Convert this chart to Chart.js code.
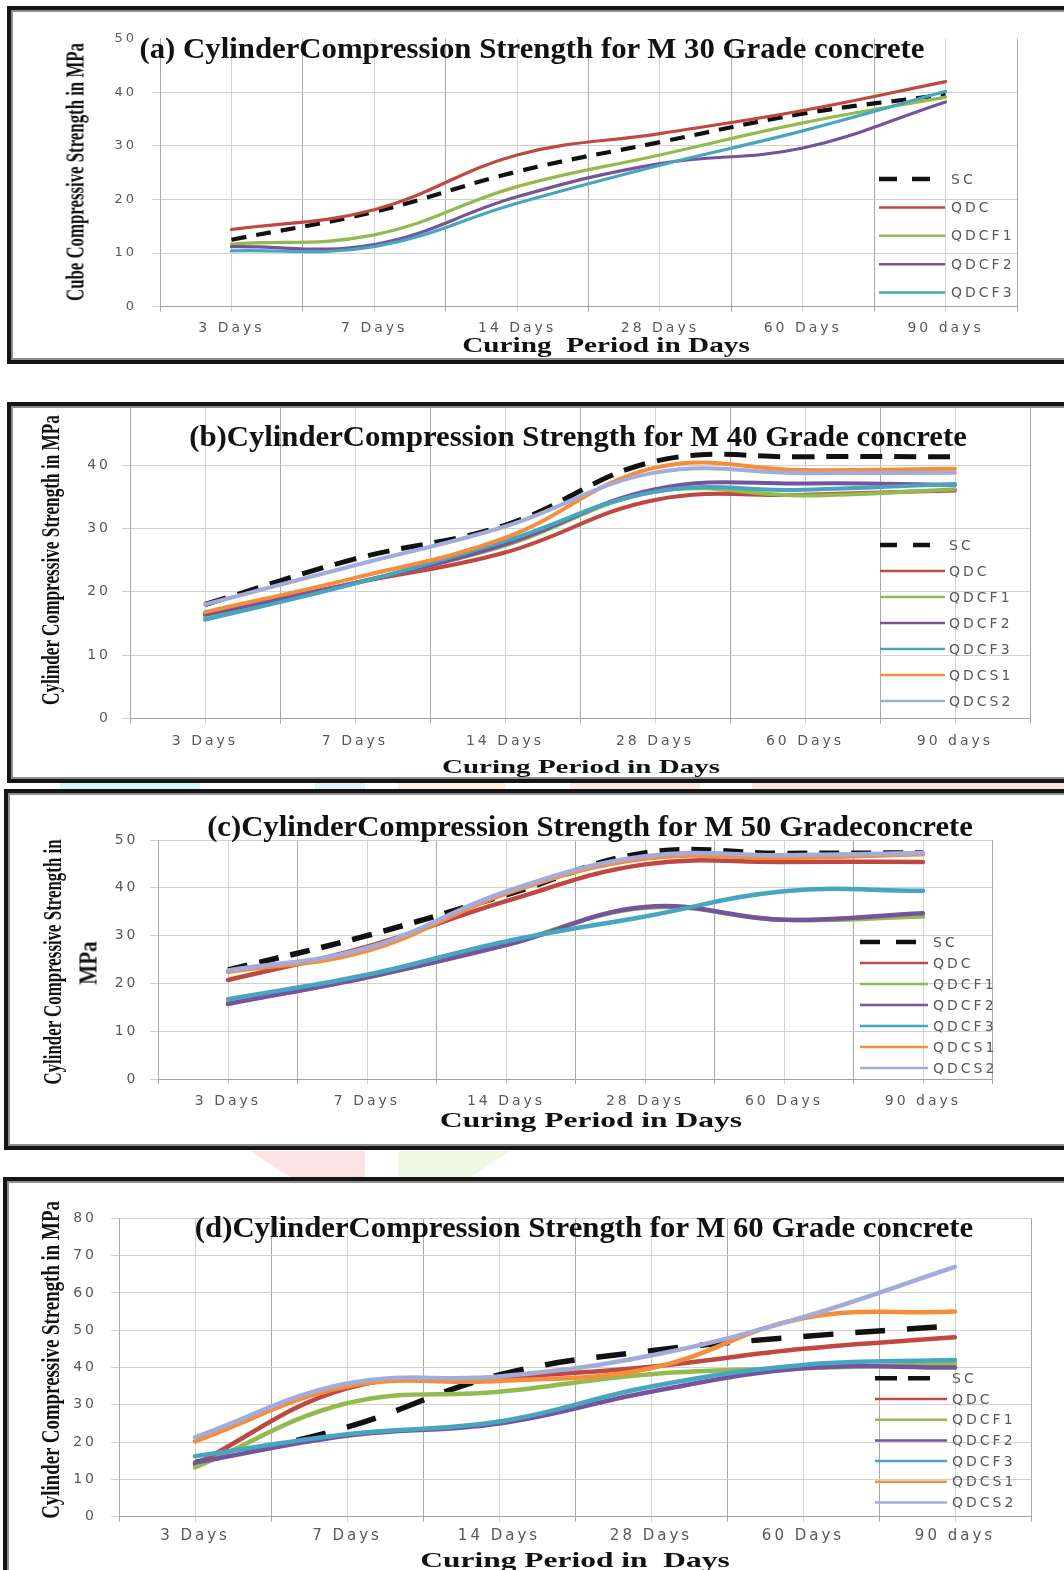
<!DOCTYPE html>
<html>
<head>
<meta charset="utf-8">
<script src="https://cdn.jsdelivr.net/npm/chart.js@4.4.0/dist/chart.umd.min.js"></script>
<style>
  html, body { margin: 0; padding: 0; background: #fff; }
  body { position: relative; width: 1064px; height: 1570px; overflow: hidden; }
  .frame { position: absolute; border: 4px solid #151515; box-shadow: inset 0 0 0 2px #8e8e8e; background: #fff; box-sizing: border-box; }
  .mark { position: absolute; }
  canvas { position: absolute; left: 0; }
  .lbl { position: absolute; white-space: pre; font-family: "Liberation Serif", "Times New Roman", serif; font-weight: bold; color: #111; line-height: 1; }
</style>
</head>
<body>
<script>
// curing ages and mix names
const DAYS = ['3 Days', '7 Days', '14 Days', '28 Days', '60 Days', '90 days'];
const SERIES = ['SC', 'QDC', 'QDCF1', 'QDCF2', 'QDCF3', 'QDCS1', 'QDCS2'];
const COLORS = ['#111111', '#BF4842', '#93BA4E', '#76549C', '#47A5C0', '#F48E3C', '#A3ACD9'];

// M30 (MPa)
const M30_SC    = [12.5, 17.7, 25.2, 30.7, 36.0, 39.6];
const M30_QDC   = [14.4, 18.1, 28.3, 32.3, 36.6, 42.0];
const M30_QDCF1 = [11.7, 13.4, 22.4, 28.3, 34.3, 39.1];
const M30_QDCF2 = [11.2, 11.6, 20.5, 26.7, 29.6, 38.2];
const M30_QDCF3 = [10.4, 11.2, 19.3, 26.4, 32.8, 40.2];

// M40
const M40_SC    = [18.0, 25.2, 30.5, 40.6, 41.3, 41.3];
const M40_QDC   = [16.5, 21.4, 26.2, 34.5, 35.3, 36.0];
const M40_QDCF1 = [15.9, 21.4, 27.3, 35.8, 35.2, 36.2];
const M40_QDCF2 = [16.4, 21.4, 27.5, 36.2, 37.1, 36.9];
const M40_QDCF3 = [15.6, 21.3, 28.0, 35.8, 36.1, 37.0];
const M40_QDCS1 = [16.8, 22.2, 28.5, 39.6, 39.2, 39.4];
const M40_QDCS2 = [18.0, 24.2, 30.3, 38.8, 38.7, 38.8];

// M50
const M50_SC    = [22.8, 30.0, 38.5, 47.3, 47.2, 47.3];
const M50_QDC   = [20.7, 27.7, 37.2, 44.9, 45.4, 45.4];
const M50_QDCF1 = [15.9, 21.2, 28.2, 35.8, 33.3, 34.0];
const M50_QDCF2 = [15.7, 21.3, 28.0, 36.0, 33.3, 34.7];
const M50_QDCF3 = [16.7, 21.8, 28.8, 34.0, 39.3, 39.4];
const M50_QDCS1 = [22.4, 26.8, 38.8, 46.1, 46.3, 47.0];
const M50_QDCS2 = [22.7, 27.4, 39.2, 46.6, 46.8, 47.3];

// M60
const M60_SC    = [14.5, 24.0, 38.0, 44.5, 48.3, 51.2];
const M60_QDC   = [14.0, 34.4, 37.2, 40.2, 45.0, 48.1];
const M60_QDCF1 = [13.2, 30.4, 33.5, 38.2, 39.8, 41.0];
const M60_QDCF2 = [14.5, 21.7, 25.0, 33.5, 39.8, 40.0];
const M60_QDCF3 = [16.2, 22.1, 25.5, 34.9, 40.7, 42.0];
const M60_QDCS1 = [20.2, 34.9, 36.4, 39.8, 53.2, 55.0];
const M60_QDCS2 = [21.3, 35.7, 37.6, 43.2, 53.5, 67.0];

// wide spacing for the gothic-looking tick/legend text
const spacing = {
  id: 'spacing',
  beforeDraw(chart, args, o) { chart.ctx.letterSpacing = (o.px || 0) + 'px'; },
  afterDraw(chart) { chart.ctx.letterSpacing = '0px'; }
};

// legend sits inside the plot, lower right; the dashed key is two dashes long
const key = {
  id: 'key',
  afterDatasetsDraw(chart, args, o) {
    const ctx = chart.ctx;
    ctx.save();
    ctx.font = o.size + 'px "DejaVu Sans"';
    ctx.fillStyle = '#595959';
    ctx.textBaseline = 'middle';
    chart.data.datasets.forEach((ds, i) => {
      const y = o.y + i * o.gap;
      const len = i ? o.len : o.dash[0] * 2 + o.dash[1];
      ctx.strokeStyle = ds.borderColor;
      ctx.lineWidth = i ? o.lw : o.lw + 2;
      ctx.setLineDash(i ? [] : o.dash);
      ctx.beginPath();
      ctx.moveTo(o.x, y);
      ctx.lineTo(o.x + len, y);
      ctx.stroke();
      ctx.fillText(ds.label, o.x + o.len + o.tx, y + 1);
    });
    ctx.restore();
  }
};

function build(id, top, height, groups, g) {
  const cv = document.createElement('canvas');
  cv.id = id;
  cv.width = 1064;
  cv.height = height;
  cv.style.top = top + 'px';
  document.body.appendChild(cv);

  const datasets = groups.map((vals, i) => ({
    label: SERIES[i],
    data: vals.map((v, k) => ({ x: k, y: v })),
    borderColor: COLORS[i],
    borderWidth: i ? g.lw : g.lw + 1,
    borderDash: i ? [] : g.dash,
    borderCapStyle: i ? 'round' : 'butt',
    tension: 0.4,
    pointRadius: 0,
    fill: false,
    order: -i
  }));

  return new Chart(cv, {
    type: 'line',
    data: { datasets },
    options: {
      responsive: false,
      animation: false,
      events: [],
      layout: { padding: g.pad },
      plugins: {
        legend: { display: false },
        tooltip: { enabled: false },
        spacing: { px: 3 },
        key: g.key
      },
      scales: {
        x: {
          type: 'linear', min: -0.5, max: 5.5,
          afterFit: (s) => { s.height = 30; s.paddingLeft = 0; s.paddingRight = 0; },
          ticks: {
            stepSize: 0.5, autoSkip: false, maxRotation: 0,
            padding: g.xpad, color: '#595959',
            font: { family: 'DejaVu Sans', size: g.xfs },
            callback: (v) => Number.isInteger(v) ? DAYS[v] : ''
          },
          grid: {
            tickLength: 5,
            color: (c) => Number.isInteger(c.tick.value) ? '#D2D2D2' : '#A9A9A9'
          },
          border: { color: '#A0A0A0' }
        },
        y: {
          min: 0, max: g.ymax,
          afterFit: (s) => { s.width = 45; s.paddingTop = 0; s.paddingBottom = 0; },
          ticks: {
            stepSize: 10, includeBounds: false,
            padding: g.ypad, color: '#595959',
            font: { family: 'DejaVu Sans', size: g.yfs }
          },
          grid: {
            tickLength: 8,
            color: (c) => c.tick.value === g.ymax && g.noTop ? 'rgba(0,0,0,0)' : '#D0D0D0'
          },
          border: { color: '#A9A9A9' }
        }
      }
    },
    plugins: [spacing, key]
  });
}

function frame(left, top, bottom) {
  const d = document.createElement('div');
  d.className = 'frame';
  d.style.left = left + 'px';
  d.style.top = top + 'px';
  d.style.width = (1072 - left) + 'px';
  d.style.height = (bottom - top) + 'px';
  document.body.appendChild(d);
}

function patch(color, poly, left, top, w, h) {
  const d = document.createElement('div');
  d.className = 'mark';
  Object.assign(d.style, { left: left + 'px', top: top + 'px', width: w + 'px', height: h + 'px', background: color });
  if (poly) d.style.clipPath = poly;
  document.body.appendChild(d);
}

// serif captions, squeezed or stretched to their run length
function label(text, cx, cy, size, len, rot) {
  const d = document.createElement('div');
  d.className = 'lbl';
  d.textContent = text;
  d.style.fontSize = size + 'px';
  document.body.appendChild(d);
  const k = len / d.offsetWidth;
  d.style.left = cx + 'px';
  d.style.top = cy + 'px';
  d.style.transform = 'translate(-50%,-50%)' + (rot ? ' rotate(-90deg)' : '') + ' scaleX(' + k.toFixed(3) + ')';
}

// faint background blots between the panels
patch('#d8f6f8', null, 60, 783, 140, 6);
patch('#e0f4fa', null, 315, 783, 50, 6);
patch('#fdeede', null, 398, 783, 107, 6);
patch('#fde5e1', null, 570, 783, 130, 6);
patch('#fde3e3', null, 752, 783, 312, 6);
patch('#fde3e3', 'polygon(0 0,100% 0,100% 100%,35% 100%)', 250, 1151, 115, 26);
patch('#eefbe2', 'polygon(0 0,100% 0,65% 100%,0 100%)', 398, 1151, 112, 26);

frame(7, 6, 364);
frame(7, 402, 783);
frame(4, 789, 1150);
frame(3, 1177, 1590);

build('m30', 6, 358, [M30_SC, M30_QDC, M30_QDCF1, M30_QDCF2, M30_QDCF3], {
  pad: { left: 115, right: 47, top: 32.7, bottom: 27.3 },
  ymax: 50, noTop: true, lw: 3.2, dash: [15, 10], xfs: 14, yfs: 13, xpad: 8, ypad: 15,
  key: { x: 879, y: 173, gap: 28.4, len: 66, tx: 6, lw: 2.5, dash: [18, 15], size: 14 }
});
build('m40', 402, 380, [M40_SC, M40_QDC, M40_QDCF1, M40_QDCF2, M40_QDCF3, M40_QDCS1, M40_QDCS2], {
  pad: { left: 85, right: 34, top: 6, bottom: 33.4 },
  ymax: 49, noTop: true, lw: 4, dash: [22, 12], xfs: 14, yfs: 14, xpad: 9, ypad: 11,
  key: { x: 880, y: 143, gap: 26, len: 65, tx: 4, lw: 2.5, dash: [17, 16], size: 14 }
});
build('m50', 789, 361, [M50_SC, M50_QDC, M50_QDCF1, M50_QDCF2, M50_QDCF3, M50_QDCS1, M50_QDCS2], {
  pad: { left: 113.5, right: 71.5, top: 51, bottom: 41 },
  ymax: 50, noTop: false, lw: 4.5, dash: [20, 12], xfs: 14, yfs: 14, xpad: 8.6, ypad: 12,
  key: { x: 860, y: 153, gap: 21, len: 68, tx: 5, lw: 2.5, dash: [20, 16], size: 14 }
});
build('m60', 1177, 393, [M60_SC, M60_QDC, M60_QDCF1, M60_QDCF2, M60_QDCF3, M60_QDCS1, M60_QDCS2], {
  pad: { left: 74, right: 33, top: 41.3, bottom: 23.3 },
  ymax: 80, noTop: false, lw: 4.5, dash: [30, 22], xfs: 15, yfs: 14, xpad: 5.3, ypad: 14,
  key: { x: 875, y: 201.3, gap: 20.7, len: 72, tx: 5, lw: 2.5, dash: [22, 11], size: 14 }
});

// titles
label('(a) CylinderCompression Strength for M 30 Grade concrete', 532, 48, 30, 785);
label('(b)CylinderCompression Strength for M 40 Grade concrete', 578, 436, 30, 777);
label('(c)CylinderCompression Strength for M 50 Gradeconcrete', 590, 826, 30, 766);
label('(d)CylinderCompression Strength for M 60 Grade concrete', 584, 1227, 30, 778);

// axis captions
label('Cube Compressive Strength in MPa', 75, 172, 25, 258, true);
label('Curing  Period in Days', 606, 345, 20, 288);
label('Cylinder Compressive Strength in MPa', 50, 560, 25, 290, true);
label('Curing Period in Days', 581, 766, 19, 278);
label('Cylinder Compressive Strength in', 52, 962, 25, 245, true);
label('MPa', 88, 963, 25, 43, true);
label('Curing Period in Days', 591, 1120, 21, 302);
label('Cylinder Compressive Strength in MPa', 50, 1360, 25, 318, true);
label('Curing Period in  Days', 575, 1560, 21, 310);
</script>
</body>
</html>
